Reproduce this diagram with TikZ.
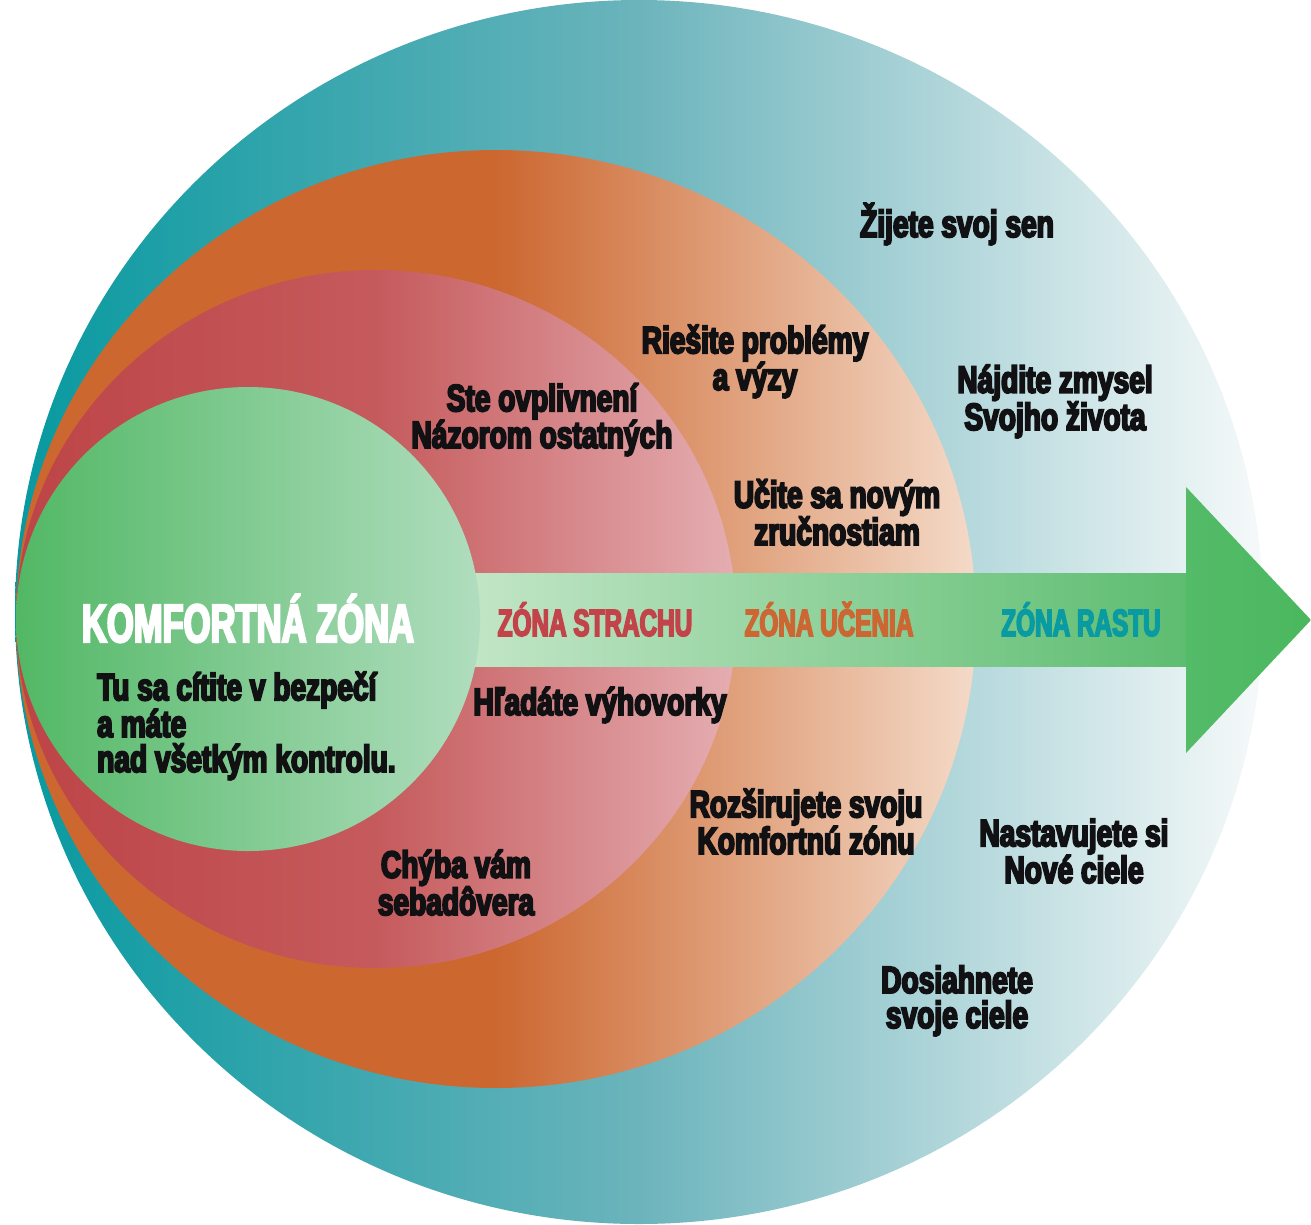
\documentclass[tikz,border=0pt]{standalone}
\usepackage{fontspec}
\setmainfont{Liberation Sans}
\newfontfamily\capsf[FakeStretch=0.64,FakeBold=4]{Liberation Sans}
\newfontfamily\txtf[FakeStretch=0.74,FakeBold=5]{Liberation Sans}
\definecolor{tealL}{HTML}{0799A0}
\definecolor{tealM}{HTML}{6CB4BC}
\definecolor{tealR}{HTML}{F6F9F9}
\definecolor{orgL}{HTML}{CC6730}
\definecolor{orgR}{HTML}{F4DAC8}
\definecolor{redL}{HTML}{BD4447}
\definecolor{redM}{HTML}{C55A5C}
\definecolor{redR}{HTML}{E5AEB2}
\definecolor{grnL}{HTML}{52B865}
\definecolor{grnR}{HTML}{B0DDBE}
\definecolor{shaftL}{HTML}{C6E7CA}
\definecolor{shaftR}{HTML}{5DBD70}
\definecolor{headL}{HTML}{54BB68}
\definecolor{headR}{HTML}{4AB85F}
\definecolor{txtblack}{HTML}{111114}
\definecolor{zred}{HTML}{C2444A}
\definecolor{zorange}{HTML}{CC6633}
\definecolor{zteal}{HTML}{0A9AA2}
\begin{document}
\begin{tikzpicture}[x=1pt,y=-1pt,
  body/.style={inner sep=0pt, align=center, text=txtblack,
    font=\txtf\bfseries\fontsize{38}{35}\selectfont},
  zonelabel/.style={inner sep=0pt, anchor=base,
    font=\capsf\bfseries\fontsize{38}{40}\selectfont}]
\useasboundingbox (0,0) rectangle (1311,1224);
% growth zone
\shade[left color=tealL, right color=tealR, middle color=tealM]
  (639,612) ellipse [x radius=624pt, y radius=612pt];
% learning zone
\shade[left color=orgL, right color=orgR, middle color=orgL]
  (496,619) ellipse [x radius=480pt, y radius=469pt];
% fear zone
\shade[left color=redL, right color=redR, middle color=redM]
  (376,619) ellipse [x radius=360pt, y radius=349pt];
% arrow
\shade[left color=shaftL, right color=shaftR] (440,573) rectangle (1187,666);
\shade[left color=headL, right color=headR] (1186,487) -- (1311,620) -- (1186,753) -- cycle;
% comfort zone
\shade[left color=grnL, right color=grnR] (248,619) circle [radius=232pt];

\node[inner sep=0pt, anchor=base, text=white,
  font=\capsf\bfseries\fontsize{54}{56}\selectfont] (komf) at (248,642) {KOMFORTNÁ ZÓNA};
\node[body, align=left, anchor=base west] (bezp) at (97,772)
  {Tu sa cítite v bezpečí\\a máte\\nad všetkým kontrolu.};

\node[zonelabel, text=zred] (strach) at (595,636) {ZÓNA STRACHU};
\node[zonelabel, text=zorange] (ucenia) at (829,636) {ZÓNA UČENIA};
\node[zonelabel, text=zteal] (rastu) at (1081,636) {ZÓNA RASTU};

\node[body, anchor=base] (sen) at (957,237) {Žijete svoj sen};
\node[body, anchor=base] (ries) at (755,390) {Riešite problémy\\a výzy};
\node[body, anchor=base] (ovpl) at (542,448) {Ste ovplivnení\\Názorom ostatných};
\node[body, anchor=base] (zmys) at (1055,430) {Nájdite zmysel\\Svojho života};
\node[body, anchor=base] (ucite) at (837,545) {Učite sa novým\\zručnostiam};
\node[body, anchor=base] (hlad) at (600,715) {Hľadáte výhovorky};
\node[body, anchor=base] (rozs) at (806,854) {Rozširujete svoju\\Komfortnú zónu};
\node[body, anchor=base] (nast) at (1074,883) {Nastavujete si\\Nové ciele};
\node[body, anchor=base] (chyb) at (456,915) {Chýba vám\\sebadôvera};
\node[body, anchor=base] (dosi) at (957,1028) {Dosiahnete\\svoje ciele};
\end{tikzpicture}
\end{document}
